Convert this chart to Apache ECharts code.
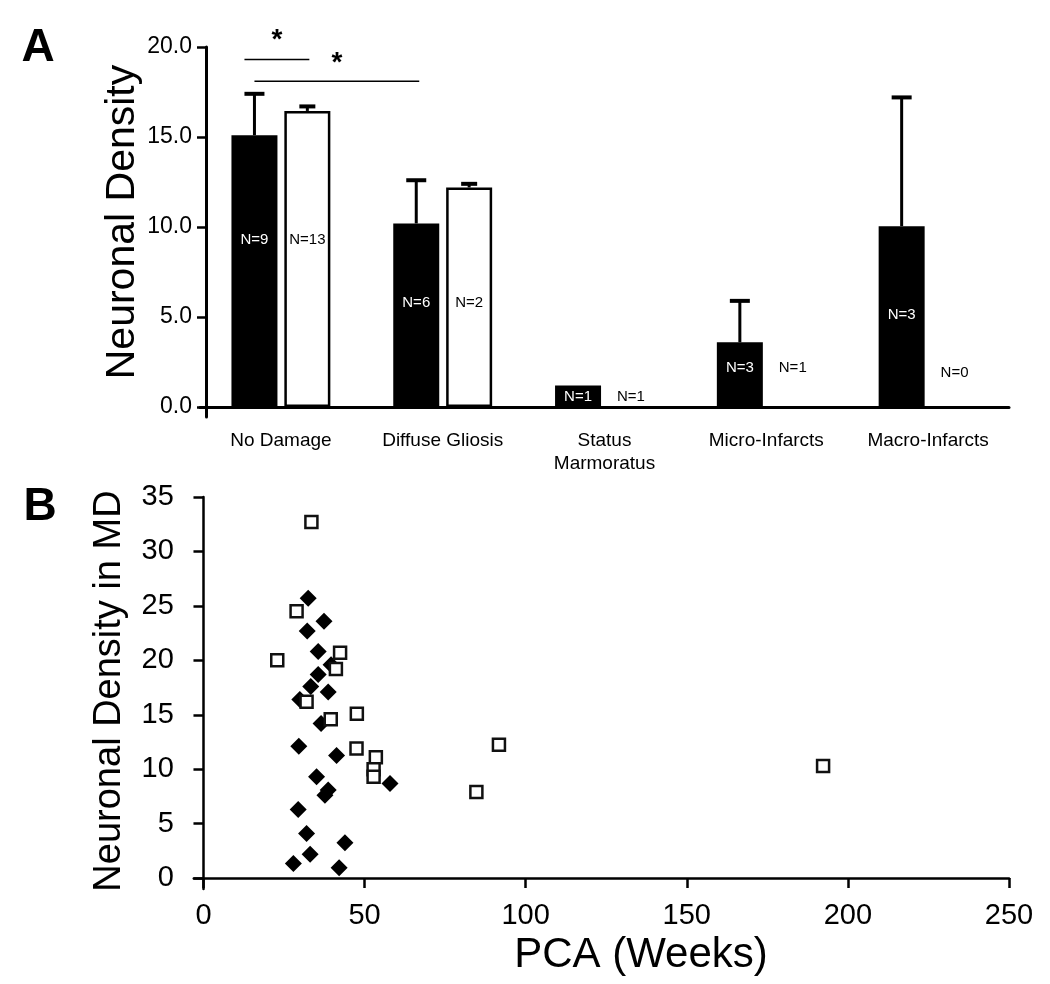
<!DOCTYPE html>
<html><head><meta charset="utf-8">
<script src="https://cdn.jsdelivr.net/npm/echarts@6/dist/echarts.min.js"></script>
<style>html,body{margin:0;padding:0;background:#fff}#c{width:1050px;height:984px}</style>
</head><body><div id="c"></div>
<script>
// ---------- Panel A data ----------
const categories = ['No Damage', 'Diffuse Gliosis', 'Status\nMarmoratus', 'Micro-Infarcts', 'Macro-Infarcts'];
const blackMeans = [15.1, 10.2, 1.2, 3.6, 10.05];
const blackErrTop = [17.4, 12.6, null, 5.9, 17.2];
const whiteMeans = [16.45, 12.2, null, null, null];
const whiteErrTop = [16.7, 12.4, null, null, null];
const blackN = ['N=9', 'N=6', 'N=1', 'N=3', 'N=3'];
const whiteN = ['N=13', 'N=2', 'N=1', 'N=1', 'N=0'];
const blackNy = [9.3, 5.8, 0.55, 2.2, 5.1];
const whiteNy = [9.3, 5.8, 0.55, 2.2, 1.9];
const barTicks = [0, 5, 10, 15, 20];
// significance brackets
const sigFromCat = [0, 0];
const sigFromSide = [-1, -1];
const sigToCat = [0, 1];
const sigToSide = [1, -1];
const sigLineY = [19.3, 18.1];
const sigStarY = [20.35, 19.1];

// ---------- Panel B data ----------
const openSquares = [
  [33.5, 32.7], [28.9, 24.5], [22.9, 20.0], [42.4, 20.7], [41.1, 19.2],
  [32.0, 16.2], [39.5, 14.6], [47.6, 15.1], [47.5, 11.9], [53.5, 11.1],
  [52.8, 10.0], [52.8, 9.3], [84.7, 7.9], [91.7, 12.25], [192.3, 10.3]
];
const filledDiamonds = [
  [32.5, 25.7], [37.4, 23.6], [32.2, 22.7], [35.6, 20.8], [39.6, 19.6],
  [35.6, 18.7], [33.3, 17.6], [38.7, 17.1], [29.9, 16.4], [36.5, 14.2],
  [29.6, 12.1], [41.3, 11.25], [35.1, 9.3], [38.7, 8.1], [37.7, 7.6],
  [57.9, 8.7], [29.4, 6.3], [32.0, 4.1], [43.9, 3.25], [33.1, 2.2],
  [27.9, 1.35], [42.1, 0.95]
];
const pcaTicks = [0, 50, 100, 150, 200, 250];
const densTicks = [0, 5, 10, 15, 20, 25, 30, 35];

// ---------- style constants ----------
const SANS = "'Liberation Sans', Arial, sans-serif";
const BAR_W = 46;
const BAR_GAP = 0.15;
const HALF = (BAR_W * (1 + BAR_GAP)) / 2;

const chart = echarts.init(document.getElementById('c'), null, {renderer: 'canvas'});

const errData = [];
blackErrTop.forEach((t, i) => { if (t != null) errData.push([i, blackMeans[i], t, -1]); });
whiteErrTop.forEach((t, i) => { if (t != null) errData.push([i, whiteMeans[i], t, 1]); });

const labelData = [];
blackN.forEach((s, i) => labelData.push([i, blackNy[i], -1]));
whiteN.forEach((s, i) => labelData.push([i, whiteNy[i], 1]));
const labelText = blackN.concat(whiteN);

const sigData = sigLineY.map((y, i) => [sigFromCat[i], sigToCat[i], y, sigStarY[i]]);
const sigPad = [[-10, 2], [0, 3]];

const option = {
  animation: false,
  backgroundColor: '#fff',
  grid: [
    {left: 200, right: 41, top: 47, bottom: 567},
    {left: 193.8, right: 41, top: 497, bottom: 95}
  ],
  xAxis: [
    {
      type: 'category', gridIndex: 0, data: categories,
      axisLine: {lineStyle: {color: '#000', width: 3}},
      axisTick: {show: false},
      axisLabel: {color: '#000', fontFamily: SANS, fontSize: 19, margin: 12, lineHeight: 23, interval: 0},
      splitLine: {show: false}
    },
    {
      type: 'value', gridIndex: 1, min: -3, max: 250,
      axisLine: {onZero: true, lineStyle: {color: '#000', width: 2.5}},
      axisTick: {show: true, length: 10, customValues: pcaTicks, lineStyle: {color: '#000', width: 2.5}},
      axisLabel: {customValues: pcaTicks, color: '#000', fontFamily: SANS, fontSize: 29, margin: 12},
      splitLine: {show: false}
    }
  ],
  yAxis: [
    {
      type: 'value', gridIndex: 0, min: -0.55, max: 20, offset: -6,
      axisLine: {show: true, lineStyle: {color: '#000', width: 3}},
      axisTick: {show: true, length: 9, customValues: barTicks, lineStyle: {color: '#000', width: 2.5}},
      axisLabel: {customValues: barTicks, color: '#000', fontFamily: SANS, fontSize: 23, margin: 14,
        formatter: v => v.toFixed(1)},
      splitLine: {show: false}
    },
    {
      type: 'value', gridIndex: 1, min: -1, max: 35,
      axisLine: {show: true, onZero: true, lineStyle: {color: '#000', width: 2.5}},
      axisTick: {show: true, length: 10, customValues: densTicks, lineStyle: {color: '#000', width: 2.5}},
      axisLabel: {customValues: densTicks, color: '#000', fontFamily: SANS, fontSize: 29, margin: 20},
      splitLine: {show: false}
    }
  ],
  series: [
    {
      type: 'bar', xAxisIndex: 0, yAxisIndex: 0, data: blackMeans,
      barWidth: BAR_W, barGap: (BAR_GAP * 100) + '%',
      itemStyle: {color: '#000'}, z: 2
    },
    {
      type: 'bar', xAxisIndex: 0, yAxisIndex: 0, data: whiteMeans,
      barWidth: BAR_W,
      itemStyle: {color: '#fff', borderColor: '#000', borderWidth: 2.5}, z: 2
    },
    {
      type: 'custom', xAxisIndex: 0, yAxisIndex: 0, data: errData, clip: false, z: 3,
      renderItem: (params, api) => {
        const i = api.value(0), lo = api.value(1), hi = api.value(2), side = api.value(3);
        const b = api.coord([i, lo]), t = api.coord([i, hi]);
        const x = b[0] + side * HALF;
        const cap = side < 0 ? 10 : 8;
        return {type: 'group', children: [
          {type: 'line', shape: {x1: x, y1: b[1], x2: x, y2: t[1]}, style: {stroke: '#000', lineWidth: 3}},
          {type: 'line', shape: {x1: x - cap, y1: t[1], x2: x + cap, y2: t[1]}, style: {stroke: '#000', lineWidth: 4}}
        ]};
      }
    },
    {
      type: 'custom', xAxisIndex: 0, yAxisIndex: 0, data: labelData, clip: false, z: 4,
      renderItem: (params, api) => {
        const i = api.value(0), y = api.value(1), side = api.value(2);
        const p = api.coord([i, y]);
        return {type: 'text', x: p[0] + side * HALF, y: p[1], style: {
          text: labelText[params.dataIndex], fill: side < 0 ? '#fff' : '#000',
          font: '15px ' + SANS, align: 'center', verticalAlign: 'middle'}};
      }
    },
    {
      type: 'custom', xAxisIndex: 0, yAxisIndex: 0, data: sigData, clip: false, z: 4,
      renderItem: (params, api) => {
        const k = params.dataIndex;
        const a = api.coord([api.value(0), api.value(2)]);
        const b = api.coord([api.value(1), api.value(2)]);
        const s = api.coord([api.value(0), api.value(3)]);
        const x1 = a[0] + sigFromSide[k] * HALF + sigPad[k][0];
        const x2 = b[0] + sigToSide[k] * HALF + sigPad[k][1];
        return {type: 'group', children: [
          {type: 'line', shape: {x1: x1, y1: a[1], x2: x2, y2: a[1]}, style: {stroke: '#000', lineWidth: 1.5}},
          {type: 'text', x: (x1 + x2) / 2, y: s[1], style: {text: '*', fill: '#000',
            font: 'bold 28px ' + SANS, align: 'center', verticalAlign: 'middle'}}
        ]};
      }
    },
    {
      type: 'scatter', xAxisIndex: 1, yAxisIndex: 1, data: filledDiamonds,
      symbol: 'diamond', symbolSize: [17, 17],
      itemStyle: {color: '#000', opacity: 1}, z: 3
    },
    {
      type: 'scatter', xAxisIndex: 1, yAxisIndex: 1, data: openSquares,
      symbol: 'rect', symbolSize: 12,
      itemStyle: {color: '#fff', borderColor: '#111', borderWidth: 2.5, opacity: 1}, z: 4
    }
  ],
  graphic: [
    {type: 'text', x: 38, y: 48, style: {text: 'A', font: 'bold 46px ' + SANS, fill: '#000', align: 'center', verticalAlign: 'middle'}},
    {type: 'text', x: 40, y: 507, style: {text: 'B', font: 'bold 46px ' + SANS, fill: '#000', align: 'center', verticalAlign: 'middle'}},
    {type: 'text', x: 123, y: 222, rotation: Math.PI / 2, style: {text: 'Neuronal Density', font: '41px ' + SANS, fill: '#000', align: 'center', verticalAlign: 'middle'}},
    {type: 'text', x: 110, y: 691, rotation: Math.PI / 2, style: {text: 'Neuronal Density in MD', font: '38px ' + SANS, fill: '#000', align: 'center', verticalAlign: 'middle'}},
    {type: 'text', x: 641, y: 955, style: {text: 'PCA (Weeks)', font: '42px ' + SANS, fill: '#000', align: 'center', verticalAlign: 'middle'}}
  ]
};
chart.setOption(option);
</script>
</body></html>
